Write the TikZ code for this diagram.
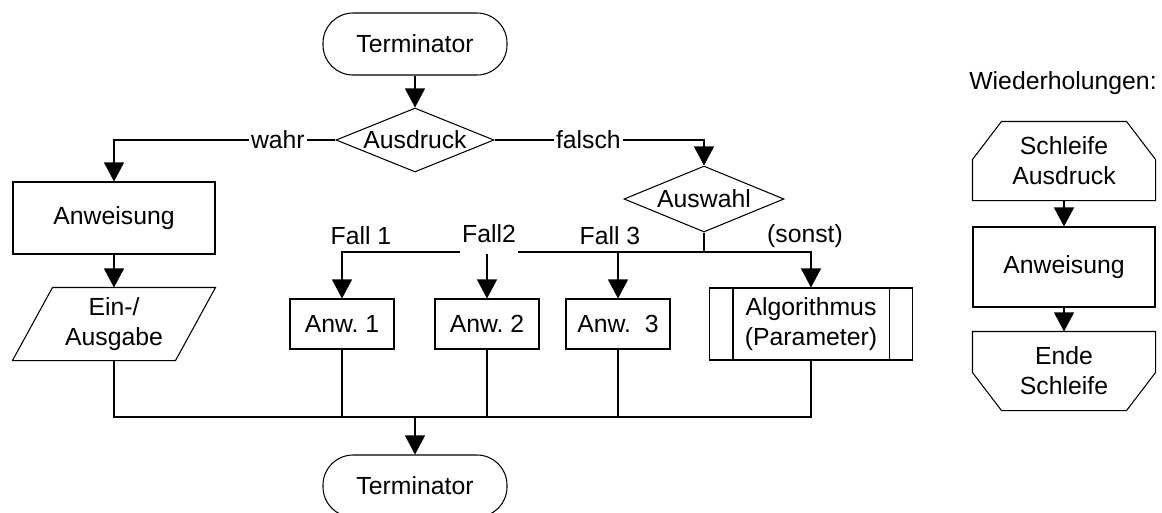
\documentclass[tikz,border=0pt]{standalone}
\usepackage{fontspec}
\setmainfont{Liberation Sans}
\usetikzlibrary{arrows.meta,shapes.geometric}

\begin{document}
\begin{tikzpicture}[
  font=\fontsize{14.1pt}{17pt}\selectfont,
  line width=0.6pt,
  flow/.style={-{Triangle[length=0.38cm,width=0.4cm]}},
  term/.style={draw,rounded corners=0.6cm,minimum width=3.68cm,minimum height=1.24cm},
  proc/.style={draw,minimum width=4.04cm,minimum height=1.44cm,align=center},
  anwbox/.style={draw,minimum width=2.08cm,minimum height=1cm},
  decision/.style={draw,diamond,aspect=2.5,inner sep=0pt},
  loopbox/.style={minimum width=3.64cm,minimum height=1.56cm,align=center},
  tag/.style={fill=white,inner sep=1pt}]
  \useasboundingbox (0,0) rectangle (23.24,-10.24);

  % main flow
  \node[term] (start) at (8.3,-0.88) {Terminator};
  \node[decision,minimum width=3.16cm,minimum height=1.28cm] (cond) at (8.3,-2.8) {Ausdruck};
  \node[proc] (stmt) at (2.28,-4.36) {Anweisung};
  \node[decision,minimum width=3.2cm,minimum height=1.32cm] (sel) at (14.08,-3.98) {Auswahl};
  \node[minimum width=4.04cm,minimum height=1.44cm,align=center] (io) at (2.28,-6.48) {Ein-/\\Ausgabe};
  \draw ([xshift=0.8cm]io.north west) -- (io.north east) -- ([xshift=-0.8cm]io.south east) -- (io.south west) -- cycle;
  \node[anwbox] (anw1) at (6.84,-6.48) {Anw.\ 1};
  \node[anwbox] (anw2) at (9.74,-6.48) {Anw.\ 2};
  \node[anwbox] (anw3) at (12.36,-6.48) {Anw.\ \ 3};
  \node[proc,minimum width=4.06cm] (algo) at (16.22,-6.48) {Algorithmus\\(Parameter)};
  \draw ([xshift=0.48cm]algo.north west) -- ([xshift=0.48cm]algo.south west);
  \draw ([xshift=-0.48cm]algo.north east) -- ([xshift=-0.48cm]algo.south east);
  \node[term] (stop) at (8.3,-9.72) {Terminator};
  \coordinate (split) at (14.08,-5.04);
  \coordinate (join) at (8.3,-8.34);

  \draw[flow] (start) -- (cond);
  \draw[flow] (cond.west) -| node[tag,pos=0.13] (yes) {wahr} (stmt.north);
  \draw[flow] (cond.east) -| node[tag,pos=0.224] (no) {falsch} (sel.north);
  \draw[flow] (stmt) -- (io);
  \draw (sel.south) -- (split);
  \foreach \n in {anw1,anw2,anw3,algo}
    \draw[flow] (split) -| (\n.north);
  \node (c1) at (7.22,-4.72) {Fall 1};
  \node[tag,minimum height=0.8cm] (c2) at (9.78,-4.68) {Fall2};
  \node (c3) at (12.2,-4.72) {Fall 3};
  \node (c4) at (16.1,-4.72) {(sonst)};
  \foreach \n in {io,anw1,anw2,anw3,algo}
    \draw (\n.south) |- (join);
  \draw[flow] (join) -- (stop);

  % loops
  \node (title) at (21.26,-1.66) {Wiederholungen:};
  \node[loopbox] (loop) at (21.28,-3.22) {Schleife\\Ausdruck};
  \draw (loop.south west) -- ([yshift=-0.76cm]loop.north west) -- ([xshift=0.58cm]loop.north west) -- ([xshift=-0.58cm]loop.north east) -- ([yshift=-0.76cm]loop.north east) -- (loop.south east) -- cycle;
  \node[proc,minimum width=3.64cm,minimum height=1.6cm] (body) at (21.28,-5.34) {Anweisung};
  \node[loopbox] (loopend) at (21.28,-7.42) {Ende\\Schleife};
  \draw (loopend.north west) -- ([yshift=0.76cm]loopend.south west) -- ([xshift=0.58cm]loopend.south west) -- ([xshift=-0.58cm]loopend.south east) -- ([yshift=0.76cm]loopend.south east) -- (loopend.north east) -- cycle;
  \draw[flow] (loop) -- (body);
  \draw[flow] (body) -- (loopend);
\end{tikzpicture}
\end{document}
